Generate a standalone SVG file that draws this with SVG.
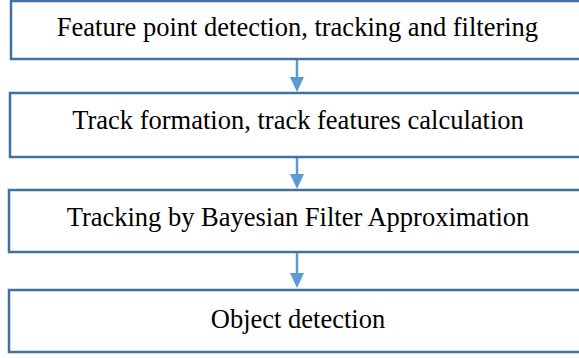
<svg xmlns="http://www.w3.org/2000/svg" width="579" height="358" viewBox="0 0 579 358">
  <style>
    .box { fill: #ffffff; stroke: #41719C; stroke-width: 2.5; }
    .lbl { font-family: "Liberation Serif", "Times New Roman", serif; font-size: 26.5px; fill: #000000; text-anchor: middle; }
    .conn { stroke: #5B9BD5; stroke-width: 2.5; fill: none; }
    .head { fill: #5B9BD5; }
  </style>
  <rect width="579" height="358" fill="#ffffff"/>
  <g id="connectors">
    <line class="conn" x1="297" y1="60" x2="297" y2="78"/>
    <polygon class="head" points="290,77 304,77 297,92"/>
    <line class="conn" x1="297" y1="158" x2="297" y2="175"/>
    <polygon class="head" points="290,174 304,174 297,189"/>
    <line class="conn" x1="297" y1="253" x2="297" y2="274"/>
    <polygon class="head" points="290,273 304,273 297,288"/>
  </g>
  <g id="node1">
    <rect class="box" x="11" y="1" width="580" height="58"/>
    <text class="lbl" x="297.5" y="36">Feature point detection, tracking and filtering</text>
  </g>
  <g id="node2">
    <rect class="box" x="10" y="93" width="580" height="64"/>
    <text class="lbl" x="298" y="129">Track formation, track features calculation</text>
  </g>
  <g id="node3">
    <rect class="box" x="9" y="190" width="580" height="62"/>
    <text class="lbl" x="298" y="226">Tracking by Bayesian Filter Approximation</text>
  </g>
  <g id="node4">
    <rect class="box" x="9" y="290" width="580" height="62"/>
    <text class="lbl" x="298" y="328">Object detection</text>
  </g>
</svg>
